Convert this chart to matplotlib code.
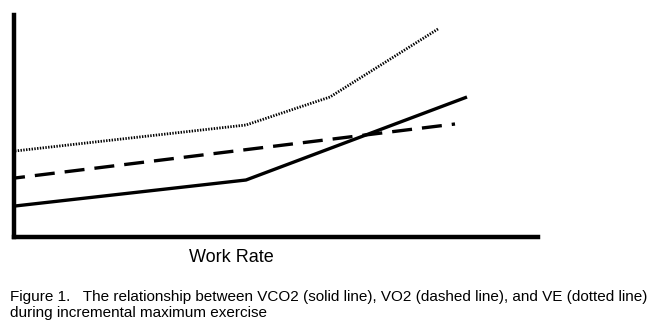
import matplotlib.pyplot as plt

plt.rcParams['font.family'] = ['Liberation Sans', 'DejaVu Sans']

# work rate (arbitrary units) and response curves
vco2_x = [1, 232, 453]
vco2_y = [31, 57, 140]

vo2_x = [1, 441]
vo2_y = [59, 113]

ve_x = [1, 232, 316, 424]
ve_y = [86, 112, 140, 208]

fig = plt.figure(figsize=(6.61, 3.32), dpi=100)
ax = fig.add_axes([14 / 661, 95 / 332, 524 / 661, 222 / 332])

ax.plot(vco2_x, vco2_y, color='black', linewidth=2.4, solid_capstyle='butt')
ax.plot(vo2_x, vo2_y, color='black', linewidth=2.4,
        linestyle=(3, (6, 3)), dash_capstyle='butt')
ax.plot(ve_x, ve_y, color='black', linewidth=2.0, linestyle=(0, (0.5, 0.5)))

ax.set_xlim(0, 524)
ax.set_ylim(0, 222)
ax.set_xticks([])
ax.set_yticks([])
for side in ['top', 'right']:
    ax.spines[side].set_visible(False)
for side in ['left', 'bottom']:
    ax.spines[side].set_linewidth(3.2)

fig.text(231 / 661, 1 - 258 / 332, 'Work Rate', fontsize=13,
         ha='center', va='center')

fig.text(10 / 661, 1 - 305 / 332,
         'Figure 1.   The relationship between VCO2 (solid line), VO2 (dashed line), and VE (dotted line)\n'
         'during incremental maximum exercise',
         fontsize=11, va='center', linespacing=1.15)

fig.savefig('out.png', dpi=100)
